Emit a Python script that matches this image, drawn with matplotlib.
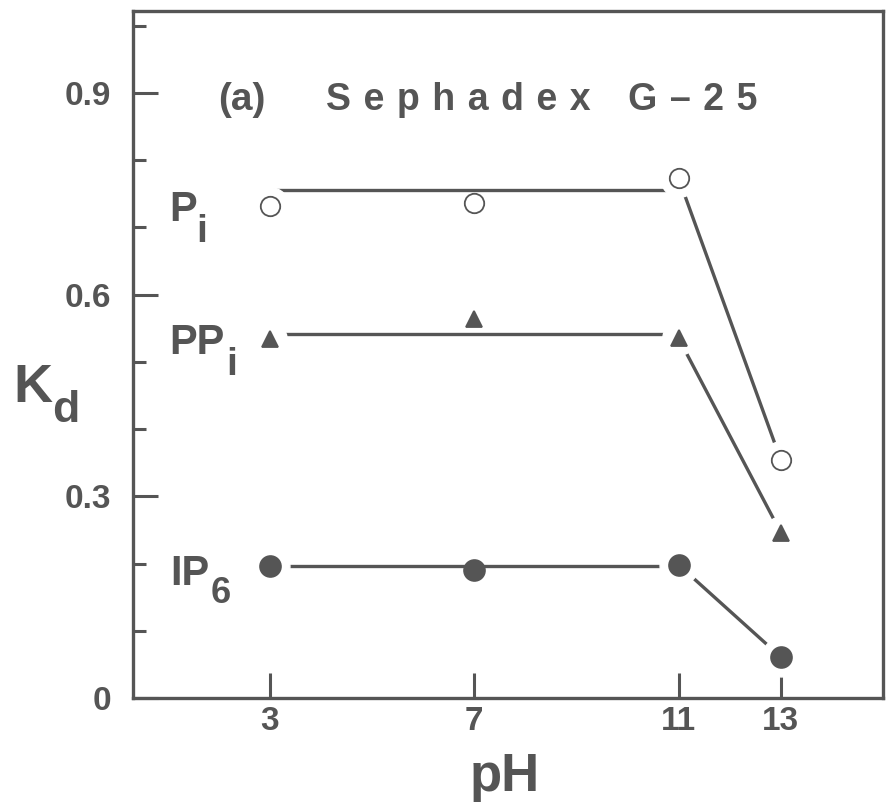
import numpy as np
import matplotlib
matplotlib.use('Agg')
import matplotlib.pyplot as plt
from matplotlib.ticker import MultipleLocator

# Kd vs pH on Sephadex G-25
ph = [3, 7, 11, 13]
pi_kd = [0.732, 0.736, 0.773, 0.354]
ppi_kd = [0.534, 0.564, 0.535, 0.246]
ip6_kd = [0.197, 0.191, 0.198, 0.061]
plateau_kd = [0.755, 0.542, 0.196]   # horizontal fit lines, pH 3-11
yticks = [0, 0.3, 0.6, 0.9]
ylabels = ['0', '0.3', '0.6', '0.9']

plt.rcParams['font.family'] = ['Liberation Sans', 'DejaVu Sans']
plt.rcParams['font.weight'] = 'bold'
ink = '#555555'

fig = plt.figure(figsize=(8.86, 8.09), dpi=100)
ax = fig.add_axes([133/886, 1-698/809, 750/886, 687/809])
ax.set_xlim(0.32, 15.0)
ax.set_ylim(0, 1.022)

for s in ax.spines.values():
    s.set_linewidth(2.4)
    s.set_color(ink)

ax.set_xticks(ph, [str(p) for p in ph])
ax.set_yticks(yticks, ylabels)
ax.yaxis.set_minor_locator(MultipleLocator(0.1))
ax.tick_params(which='both', direction='in', color=ink, labelcolor=ink,
               labelsize=24, width=2.2)
ax.tick_params(which='major', length=18)
ax.tick_params(which='minor', length=9.5)
ax.tick_params(axis='y', pad=16)
ax.tick_params(axis='x', pad=6)

series = [
    (pi_kd, plateau_kd[0], 'o', 14, 'white', 27),
    (ppi_kd, plateau_kd[1], '^', 11.5, ink, 24),
    (ip6_kd, plateau_kd[2], 'o', 15, ink, 28),
]
ends = [0, 2, 3]
for kd, lvl, mk, ms, face, halo in series:
    ax.plot([ph[0], ph[2]], [lvl, lvl], color=ink, lw=2.4, zorder=2)
    ax.plot(ph[2:], kd[2:], color=ink, lw=2.4, zorder=2)
    ax.plot([ph[i] for i in ends], [kd[i] for i in ends], 'o', ms=halo,
            color='white', zorder=3)
    ax.plot(ph, kd, mk, ms=ms, mfc=face, mec=ink, mew=1.3, ls='none', zorder=4)

def label(main, sub, y, dxm, dym, dxs, dys, subsize):
    ax.annotate(main, xy=(0, y), xycoords=('axes fraction', 'data'),
                xytext=(dxm, dym), textcoords='offset pixels', fontsize=30,
                color=ink, ha='left', va='baseline')
    ax.annotate(sub, xy=(0, y), xycoords=('axes fraction', 'data'),
                xytext=(dxs, dys), textcoords='offset pixels', fontsize=subsize,
                color=ink, ha='left', va='baseline')

label('P', 'i', pi_kd[0], 36, -15, 63, -36, 28)
label('PP', 'i', ppi_kd[0], 36, -15, 93, -36, 28)
label('IP', '6', ip6_kd[0], 37, -19, 78, -37, 26)

sp = '\u2004'
title = sp.join('Sephadex') + sp * 3 + sp.join('G\u201325')
fig.text(218/886, 1-110/809, '(a)', fontsize=28, color=ink, va='baseline')
fig.text(326/886, 1-110/809, title, fontsize=27, color=ink, va='baseline')
fig.text(13/886, 1-402/809, 'K', fontsize=39, color=ink, va='baseline')
fig.text(52/886, 1-422/809, 'd', fontsize=32, color=ink, va='baseline')
fig.text(505/886, 1-791/809, 'pH', fontsize=38, color=ink, va='baseline', ha='center')

fig.savefig('out.png', dpi=100, facecolor='white')
